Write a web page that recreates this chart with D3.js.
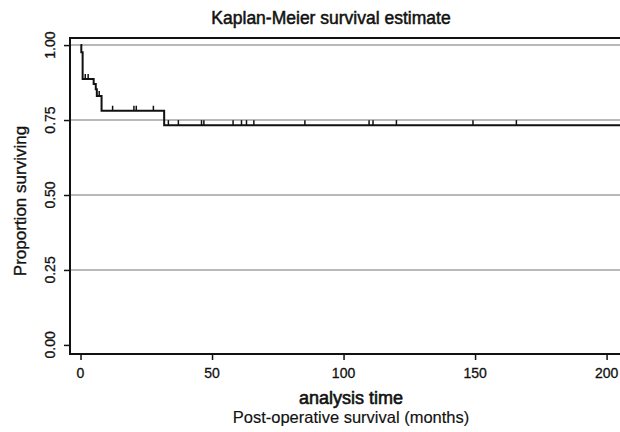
<!DOCTYPE html>
<html>
<head>
<meta charset="utf-8">
<script src="https://cdn.jsdelivr.net/npm/d3@7"></script>
<style>
  html, body { margin: 0; padding: 0; background: #fff; }
  svg { display: block; font-family: "Liberation Sans", Arial, sans-serif; }
</style>
</head>
<body>
<svg id="chart" width="620" height="432"></svg>
<script>
// Kaplan-Meier step function (time at which each level starts, survival level)
const stepTimes = [0, 0.3, 0.8, 5.0, 5.8, 6.2, 8.0, 31.8];
const survival  = [1.0, 0.976, 0.887, 0.870, 0.853, 0.830, 0.781, 0.733];
const lastTime = 215;
// censored observation times
const censorTimes = [1.8, 2.9, 7.1, 12.2, 20.3, 21.2, 27.7, 33.4, 37.2, 46.0, 46.9,
                     58.0, 61.2, 63.1, 65.9, 85.3, 109.7, 111.2, 120.1, 149.2, 165.7];
const xTicks = [0, 50, 100, 150, 200];
const yTicks = [0, 0.25, 0.5, 0.75, 1.0];
const yTickLabels = ["0.00", "0.25", "0.50", "0.75", "1.00"];
const gridValues = [0.25, 0.5, 0.75, 1.0];

(function () {
const svg = d3.select("#chart");
const W = 620, H = 432;
const pLeft = 70, pRight = 620, pTop = 38, pBottom = 354;

const x = d3.scaleLinear().domain([-4, 205.1]).range([pLeft, pRight]);
const y = d3.scaleLinear().domain([-0.0303, 1.0236]).range([pBottom, pTop]);

svg.append("rect").attr("width", W).attr("height", H).attr("fill", "#fff");

svg.append("defs").append("clipPath").attr("id", "plotclip")
  .append("rect").attr("x", pLeft).attr("y", pTop - 10).attr("width", pRight - pLeft).attr("height", pBottom - pTop + 10);

// grid lines
svg.append("g").selectAll("line").data(gridValues).join("line")
  .attr("x1", pLeft).attr("x2", pRight)
  .attr("y1", d => y(d)).attr("y2", d => y(d))
  .attr("stroke", "#b9b9b9").attr("stroke-width", 2);

// KM curve
const pts = stepTimes.map((t, i) => [t, survival[i]]);
pts.push([lastTime, survival[survival.length - 1]]);
const line = d3.line().x(d => x(d[0])).y(d => y(d[1])).curve(d3.curveStepAfter);
const plot = svg.append("g").attr("clip-path", "url(#plotclip)");
plot.append("path").datum(pts).attr("d", line)
  .attr("fill", "none").attr("stroke", "#111").attr("stroke-width", 2);

function survAt(t) {
  let s = survival[0];
  for (let i = 0; i < stepTimes.length; i++) if (stepTimes[i] <= t) s = survival[i];
  return s;
}
plot.append("g").selectAll("line").data(censorTimes).join("line")
  .attr("x1", d => x(d)).attr("x2", d => x(d))
  .attr("y1", d => y(survAt(d)) - 5).attr("y2", d => y(survAt(d)))
  .attr("stroke", "#111").attr("stroke-width", 1.5);

// frame: top border
svg.append("line").attr("x1", pLeft).attr("x2", pRight).attr("y1", pTop).attr("y2", pTop)
  .attr("stroke", "#111").attr("stroke-width", 2);

const yAxis = d3.axisLeft(y).tickValues(yTicks).tickSize(6).tickFormat("");
const gy = svg.append("g").attr("transform", `translate(${pLeft},0)`).call(yAxis);
gy.select(".domain").attr("stroke", "#111").attr("stroke-width", 2)
  .attr("d", `M0,${pTop - 1}V${pBottom}`);
gy.selectAll(".tick line").attr("stroke", "#111").attr("stroke-width", 1.5);

const xAxis = d3.axisBottom(x).tickValues(xTicks).tickSize(6).tickFormat("");
const gx = svg.append("g").attr("transform", `translate(0,${pBottom})`).call(xAxis);
gx.select(".domain").attr("stroke", "#111").attr("stroke-width", 2)
  .attr("d", `M${pLeft - 1},0H${pRight}`);
gx.selectAll(".tick line").attr("stroke", "#111").attr("stroke-width", 1.5);

// y tick labels (rotated)
svg.append("g").selectAll("text").data(yTicks).join("text")
  .attr("transform", d => `translate(55,${y(d)}) rotate(-90)`)
  .attr("text-anchor", "middle").attr("font-size", 14).attr("fill", "#111")
  .attr("stroke", "#111").attr("stroke-width", 0.3)
  .text((d, i) => yTickLabels[i]);

// x tick labels
svg.append("g").selectAll("text").data(xTicks).join("text")
  .attr("x", d => x(d)).attr("y", 378)
  .attr("text-anchor", "middle").attr("font-size", 14).attr("fill", "#111")
  .attr("stroke", "#111").attr("stroke-width", 0.3)
  .text(d => d);

// titles
svg.append("text").attr("x", 331).attr("y", 24).attr("text-anchor", "middle")
  .attr("font-size", 17.5).attr("fill", "#111").attr("stroke", "#111").attr("stroke-width", 0.5)
  .text("Kaplan-Meier survival estimate");
svg.append("text").attr("transform", "translate(26,201) rotate(-90)").attr("text-anchor", "middle")
  .attr("font-size", 17).attr("fill", "#111").attr("stroke", "#111").attr("stroke-width", 0.35)
  .text("Proportion surviving");
svg.append("text").attr("x", 351).attr("y", 404).attr("text-anchor", "middle")
  .attr("font-size", 18).attr("fill", "#111").attr("stroke", "#111").attr("stroke-width", 0.6)
  .text("analysis time");
svg.append("text").attr("x", 351).attr("y", 423).attr("text-anchor", "middle")
  .attr("font-size", 16.5).attr("fill", "#111").attr("stroke", "#111").attr("stroke-width", 0.15)
  .text("Post-operative survival (months)");
})();
</script>
</body>
</html>
